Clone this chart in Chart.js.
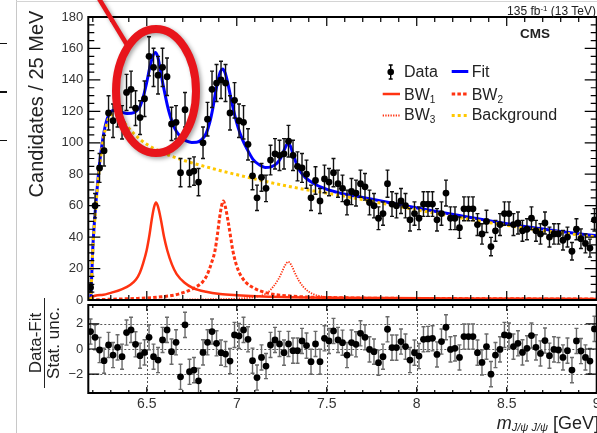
<!DOCTYPE html>
<html><head><meta charset="utf-8">
<script src="https://cdn.jsdelivr.net/npm/chart.js@4.4.1/dist/chart.umd.min.js"></script>
<style>
html,body{margin:0;padding:0;background:#fff;}
body{width:597px;height:433px;position:relative;overflow:hidden;font-family:"Liberation Sans",Arial,Helvetica,sans-serif;color:#222;}
canvas{position:absolute;left:0;}
.t{position:absolute;white-space:nowrap;}
.leg{position:absolute;white-space:nowrap;font-size:16px;line-height:16px;}
.leg sub{font-size:10px;position:relative;top:3px;vertical-align:baseline;line-height:0;}
</style></head><body>
<div style="position:absolute;left:15.5px;top:0;width:1px;height:433px;background:#c8c8c8"></div>
<div style="position:absolute;left:16px;top:1px;width:581px;height:1px;background:#d4d4d4"></div>
<div style="position:absolute;left:0;top:42.5px;width:7px;height:1.5px;background:#111"></div>
<div style="position:absolute;left:0;top:91px;width:7px;height:1.5px;background:#111"></div>
<div style="position:absolute;left:0;top:139.5px;width:7px;height:1.5px;background:#111"></div>

<canvas id="cMain" width="620" height="316" style="top:0"></canvas>
<canvas id="cPull" width="620" height="152" style="top:290px"></canvas>

<div class="t" style="left:-89px;top:94px;width:250px;height:20px;line-height:20px;font-size:20px;text-align:center;transform:rotate(-90deg);">Candidates / 25 MeV</div>
<div class="t" style="left:0px;top:325px;width:90px;height:36px;font-size:17px;line-height:17px;text-align:center;transform:rotate(-90deg);">
  <div style="border-bottom:1.5px solid #222;height:17px;">Data-Fit</div>
  <div style="height:17px;">Stat. unc.</div>
</div>
<div class="t" style="right:-2px;top:414px;font-size:18px;line-height:18px;"><i>m</i><span style="font-size:11px;position:relative;top:2px;font-style:italic;">J/ψ J/ψ</span> [GeV]</div>
<div class="t" style="right:1px;top:4.8px;font-size:12px;line-height:12px;">135 fb<span style="font-size:8px;position:relative;top:-4px;">-1</span> (13 TeV)</div>
<div class="t" style="left:520px;top:26.5px;font-size:13.5px;line-height:14px;font-weight:bold;">CMS</div>

<div class="leg" style="left:404px;top:63.8px;">Data</div>
<div class="leg" style="left:471.7px;top:63.8px;">Fit</div>
<div class="leg" style="left:404px;top:86.5px;">BW<sub>1</sub></div>
<div class="leg" style="left:471.7px;top:86.5px;">BW<sub>2</sub></div>
<div class="leg" style="left:404px;top:107.2px;">BW<sub>3</sub></div>
<div class="leg" style="left:471.7px;top:107.2px;">Background</div>

<script>
// ---------- data ----------
const binLow = 6.175, binWidth = 0.025;
const counts = [
  8, 60, 84, 95, 119, 114, 121, 113, 132, 134,
  122, 116, 128, 155, 148, 143, 148, 142, 112, 113,
  81, 121, 81, 82, 75, 100, 115, 134, 138, 140,
  138, 119, 127, 114, 113, 99, 79, 65, 78, 71,
  89, 93, 92, 93, 101, 92, 85, 84, 80, 65,
  76, 63, 77, 75, 81, 74, 71, 62, 69, 68,
  74, 72, 62, 60, 52, 55, 74, 61, 60, 63,
  60, 51, 55, 52, 61, 61, 61, 51, 55, 68,
  52, 52, 46, 58, 58, 58, 48, 42, 50, 34,
  44, 48, 55, 55, 48, 49, 44, 45, 52, 44,
  42, 49, 40, 42, 42, 38, 40, 31, 45, 39,
  36, 33, 51
];
const pulls = [
  1.39, 0.93, -0.08, -0.93, 0.32, -0.48, 0.13, -0.61, 1.31, 1.52,
  0.37, -0.53, -0.27, 0.93, -0.61, -0.88, 0.72, 1.52, -0.21, 0.53,
  -2.21, 1.92, -1.81, -1.68, -2.53, -0.27, 0.53, 1.39, 0.45, -0.29,
  -0.40, -0.96, 1.12, 1.04, 1.52, 0.77, -0.93, -2.27, -0.67, -1.36,
  0.32, 0.72, 0.40, -0.29, 0.40, -0.13, -0.13, 0.64, 0.27, -1.01,
  0.40, -1.01, 0.85, 0.64, 1.44, 0.72, 0.50, -0.48, 0.51, 0.37,
  1.25, 0.93, -0.03, -0.21, -1.09, -0.61, 1.57, 0.11, 0.11, 0.59,
  0.19, -0.88, -0.29, -0.56, 0.77, 0.80, 0.85, -0.43, 0.59, 1.73,
  -0.03, 0.05, -0.67, 0.99, 0.99, 0.99, -0.29, -1.07, 0.19, -2.00,
  -0.48, -0.03, 1.12, 1.07, 0.19, 0.45, -0.27, 0.05, 1.07, 0.13,
  -0.35, 0.67, -0.53, -0.03, -0.08, -0.67, -0.13, -1.68, 0.64, -0.16,
  -0.67, -0.96, 1.60
];
const pullUnc = 1;
const fitCurve = [[6.1875,0],[6.19,4],[6.2,33],[6.2125,55],[6.225,72],[6.2375,87],[6.25,98],[6.2625,107],[6.275,113.5],[6.2875,117.5],[6.3,119.8],[6.3125,120.6],[6.33,120.5],[6.36,119.5],[6.39,118.7],[6.415,118.8],[6.44,120],[6.462,123],[6.48,129],[6.499,138],[6.515,147],[6.53,154],[6.547,157.5],[6.56,155],[6.573,148],[6.587,139],[6.601,131],[6.615,123.5],[6.629,117.5],[6.648,111],[6.666,107],[6.695,103],[6.722,101],[6.75,100.2],[6.777,100.3],[6.805,102],[6.83,106],[6.85,113],[6.867,122],[6.882,132],[6.897,140.5],[6.91,145.5],[6.922,147],[6.935,144.5],[6.948,139],[6.962,131.5],[6.975,124.5],[6.99,117],[7.008,109.5],[7.03,102.5],[7.055,96.5],[7.09,89.5],[7.125,86],[7.157,84.3],[7.19,84.7],[7.222,86.8],[7.245,90.5],[7.262,95],[7.276,98.5],[7.287,99.6],[7.298,97.8],[7.314,92.5],[7.332,86.5],[7.351,82],[7.38,78],[7.41,75.3],[7.44,73.3],[7.48,71.3],[7.53,69.3],[7.573,68],[7.7,65.2],[7.9,60.8],[8.1,56.5],[8.258,53.3],[8.45,49.5],[8.6,46.8],[8.8,43.6],[9.0,40.8]];
const bgCurve = [[6.1875,0],[6.19,4],[6.2,32],[6.2125,53],[6.225,70],[6.2375,85],[6.25,96],[6.2625,105],[6.275,111],[6.2875,115.3],[6.3,117.5],[6.3125,118.3],[6.33,117.8],[6.36,115],[6.4,109.3],[6.45,103.5],[6.5,99],[6.583,94],[6.7,89],[6.869,83.5],[7.055,78.2],[7.3,72],[7.573,66.5],[7.9,59.5],[8.258,52],[8.6,45.8],[9.0,40]];
const bw1Curve = [[6.1875,0],[6.19,1.5],[6.25,3.2],[6.314,5],[6.36,6.8],[6.407,9.5],[6.44,13],[6.462,17.5],[6.48,23.5],[6.499,31.5],[6.515,41.5],[6.528,51.5],[6.54,58.8],[6.551,62],[6.562,59.5],[6.579,50.8],[6.596,40],[6.614,31.5],[6.64,22.5],[6.666,16.5],[6.71,11],[6.758,7.6],[6.83,5.2],[6.907,3.8],[7.0,3],[7.146,2.2],[7.573,1.4],[8.2,1],[9.0,0.7]];
const bw2Curve = [[6.1875,0],[6.3,0.5],[6.45,1],[6.58,2],[6.684,4],[6.768,8],[6.81,11.5],[6.835,16],[6.858,23],[6.879,31.5],[6.893,42],[6.904,52],[6.915,59.5],[6.925,63],[6.936,59.5],[6.952,50],[6.966,40],[6.978,31.5],[6.996,23],[7.018,16.5],[7.05,11.3],[7.092,7.8],[7.166,4.5],[7.3,2.5],[7.6,1.4],[8.2,0.9],[9.0,0.6]];
const bw3Curve = [[6.1875,0],[6.8,0.4],[7.05,1.2],[7.13,2.6],[7.17,4.6],[7.203,8.5],[7.23,13],[7.25,17.5],[7.268,22],[7.286,24.3],[7.304,22],[7.322,17.5],[7.344,12.5],[7.369,8.5],[7.4,5.3],[7.444,3],[7.55,1.5],[7.8,0.7],[9.0,0.2]];
const xTickValues = [6.5, 7, 7.5, 8, 8.5, 9];
const xTickLabels = ['6.5', '7', '7.5', '8', '8.5', '9'];
const mainYTicks = [0, 20, 40, 60, 80, 100, 120, 140, 160, 180];
const pullYTicks = [-2, 0, 2];
const pullYLabels = ['\u22122', '0', '2'];

// ---------- helpers ----------
const centers = counts.map((_, i) => binLow + (i + 0.5) * binWidth);
const toXY = arr => arr.map(p => ({x: p[0], y: p[1]}));
Chart.defaults.font.family = '"Liberation Sans", Arial, Helvetica, sans-serif';
const RED = '#ff3311';

const errorBars = {
  id: 'errorBars',
  beforeDatasetDraw(chart, args) {
    const ds = chart.data.datasets[args.index];
    if (!ds.errors) return;
    const ctx = chart.ctx, a = chart.chartArea, xs = chart.scales.x, ys = chart.scales.y;
    ctx.save();
    ctx.strokeStyle = ds.errorColor || '#000';
    ctx.lineWidth = ds.errorWidth || 1.4;
    ctx.beginPath();
    const c = ds.capHalf || 2;
    ds.data.forEach((p, i) => {
      const e = ds.errors[i];
      const px = xs.getPixelForValue(p.x);
      let yt = ys.getPixelForValue(p.y + e), yb = ys.getPixelForValue(p.y - e);
      const ct = yt >= a.top, cb = yb <= a.bottom;
      yt = Math.max(yt, a.top); yb = Math.min(yb, a.bottom);
      ctx.moveTo(px, yt); ctx.lineTo(px, yb);
      if (ct) { ctx.moveTo(px - c, yt); ctx.lineTo(px + c, yt); }
      if (cb) { ctx.moveTo(px - c, yb); ctx.lineTo(px + c, yb); }
    });
    ctx.stroke();
    ctx.restore();
  }
};

function drawMinorMajorX(ctx, chart, minorLen, majorLen, top, bottom) {
  const a = chart.chartArea, xs = chart.scales.x;
  ctx.beginPath();
  for (let k = 62; k <= 90; k++) {
    const v = k / 10;
    const major = xTickValues.some(t => Math.abs(t - v) < 1e-6);
    const L = major ? majorLen : minorLen;
    const px = xs.getPixelForValue(v);
    if (bottom) { ctx.moveTo(px, a.bottom); ctx.lineTo(px, a.bottom - L); }
    if (top) { ctx.moveTo(px, a.top); ctx.lineTo(px, a.top + L); }
  }
  ctx.stroke();
}

const mainFrame = {
  id: 'mainFrame',
  afterDatasetsDraw(chart) {
    const ctx = chart.ctx, a = chart.chartArea, ys = chart.scales.y;
    ctx.save();
    ctx.strokeStyle = '#000';
    ctx.lineWidth = 1.2;
    drawMinorMajorX(ctx, chart, 5, 9, true, true);
    ctx.beginPath();
    for (let v = 0; v <= 180; v += 5) {
      const major = mainYTicks.includes(v);
      const L = major ? 12 : 6;
      const py = ys.getPixelForValue(v);
      ctx.moveTo(a.left, py); ctx.lineTo(a.left + L, py);
      ctx.moveTo(a.right, py); ctx.lineTo(a.right - L, py);
    }
    ctx.stroke();
    ctx.lineWidth = 2;
    ctx.strokeRect(a.left, a.top, a.right - a.left, a.bottom - a.top);
    // legend keys
    const ds = chart.data.datasets;
    const key = (d, x1, x2, y) => {
      ctx.save();
      ctx.strokeStyle = d.borderColor; ctx.lineWidth = d.borderWidth;
      ctx.setLineDash(d.borderDash || []);
      ctx.beginPath(); ctx.moveTo(x1, y); ctx.lineTo(x2, y); ctx.stroke();
      ctx.restore();
    };
    const find = l => ds.find(d => d.label === l);
    key(find('Fit'), 451.7, 468.3, 71.5);
    key(find('BW1'), 382.7, 400, 94);
    key(find('BW2'), 451.7, 468.3, 94);
    key(find('BW3'), 382.7, 400, 115.5);
    key(find('Background'), 451.7, 468.3, 115.5);
    ctx.strokeStyle = '#000'; ctx.lineWidth = 1.4;
    ctx.beginPath();
    ctx.moveTo(390.7, 65); ctx.lineTo(390.7, 79);
    ctx.moveTo(388.7, 65); ctx.lineTo(392.7, 65);
    ctx.moveTo(388.7, 79); ctx.lineTo(392.7, 79);
    ctx.stroke();
    ctx.fillStyle = '#000';
    ctx.beginPath(); ctx.arc(390.7, 72, 3.3, 0, Math.PI * 2); ctx.fill();
    ctx.restore();
  },
  afterDraw(chart) {
    const ctx = chart.ctx;
    ctx.save();
    ctx.shadowColor = 'rgba(0,0,0,0.35)';
    ctx.shadowBlur = 4; ctx.shadowOffsetX = 2; ctx.shadowOffsetY = 2;
    ctx.strokeStyle = '#e8151b';
    ctx.lineWidth = 4.5;
    ctx.beginPath(); ctx.moveTo(98, -3); ctx.lineTo(126.5, 44); ctx.stroke();
    ctx.lineWidth = 8;
    ctx.beginPath(); ctx.ellipse(156, 91, 40, 62, 0, 0, Math.PI * 2); ctx.stroke();
    ctx.restore();
  }
};

const pullFrame = {
  id: 'pullFrame',
  beforeDatasetsDraw(chart) {
    const ctx = chart.ctx, a = chart.chartArea, xs = chart.scales.x, ys = chart.scales.y;
    ctx.save();
    ctx.strokeStyle = '#555'; ctx.lineWidth = 1; ctx.setLineDash([2, 2]);
    ctx.beginPath();
    xTickValues.forEach(v => { if (v < 9) { const px = Math.round(xs.getPixelForValue(v)) + 0.5; ctx.moveTo(px, a.top); ctx.lineTo(px, a.bottom); } });
    pullYTicks.forEach(v => { const py = Math.round(ys.getPixelForValue(v)) + 0.5; ctx.moveTo(a.left, py); ctx.lineTo(a.right, py); });
    ctx.stroke();
    ctx.restore();
  },
  afterDatasetsDraw(chart) {
    const ctx = chart.ctx, a = chart.chartArea, ys = chart.scales.y;
    ctx.save();
    ctx.strokeStyle = '#000'; ctx.lineWidth = 1.2;
    drawMinorMajorX(ctx, chart, 3, 6, true, true);
    ctx.beginPath();
    pullYTicks.forEach(v => { const py = ys.getPixelForValue(v);
      ctx.moveTo(a.left, py); ctx.lineTo(a.left + 11, py);
      ctx.moveTo(a.right, py); ctx.lineTo(a.right - 11, py); });
    ctx.stroke();
    ctx.lineWidth = 2;
    ctx.strokeRect(a.left, a.top, a.right - a.left, a.bottom - a.top);
    ctx.restore();
  }
};

const curveDs = (label, arr, color, width, dash, order) => ({
  label, type: 'line', data: toXY(arr), borderColor: color, borderWidth: width,
  borderDash: dash, pointRadius: 0, cubicInterpolationMode: 'monotone', fill: false, order
});

new Chart(document.getElementById('cMain'), {
  type: 'line',
  data: { datasets: [
    { label: 'Data', type: 'scatter', data: centers.map((x, i) => ({x, y: counts[i]})),
      errors: counts.map(v => Math.sqrt(v)), errorColor: '#111', errorWidth: 1.4, capHalf: 2,
      pointRadius: 3.4, pointBackgroundColor: '#000', pointBorderWidth: 0, showLine: false, order: 0 },
    curveDs('Background', bgCurve, '#ffc800', 3, [3, 3], 1),
    curveDs('BW3', bw3Curve, RED, 1.8, [1.3, 1.3], 2),
    curveDs('BW2', bw2Curve, RED, 3, [3.5, 2.2], 2),
    curveDs('BW1', bw1Curve, RED, 2.5, [], 2),
    curveDs('Fit', fitCurve, '#0000ff', 3, [], 3)
  ]},
  options: {
    responsive: false, animation: false, devicePixelRatio: 1, events: [],
    layout: { padding: { left: 0, right: 23.3, top: 17, bottom: 16 } },
    plugins: { legend: { display: false }, tooltip: { enabled: false } },
    scales: {
      x: { type: 'linear', min: 6.175, max: 9.0, display: false },
      y: { type: 'linear', min: 0, max: 180,
        afterBuildTicks: s => { s.ticks = mainYTicks.map(v => ({value: v})); },
        ticks: { font: { size: 13 }, color: '#333', padding: 5, autoSkip: false },
        grid: { display: false, drawTicks: false }, border: { display: false },
        afterFit: s => { s.width = 88.3; } }
    }
  },
  plugins: [errorBars, mainFrame]
});

new Chart(document.getElementById('cPull'), {
  type: 'scatter',
  data: { datasets: [
    { label: 'Pull', data: centers.map((x, i) => ({x, y: pulls[i]})),
      errors: pulls.map(() => pullUnc), errorColor: '#6a6a6a', errorWidth: 1.4, capHalf: 2,
      pointRadius: 3.4, pointBackgroundColor: '#000', pointBorderWidth: 0, order: 0 }
  ]},
  options: {
    responsive: false, animation: false, devicePixelRatio: 1, events: [],
    layout: { padding: { left: 0, right: 23.3, top: 15, bottom: 0 } },
    plugins: { legend: { display: false }, tooltip: { enabled: false } },
    scales: {
      x: { type: 'linear', min: 6.175, max: 9.0,
        afterBuildTicks: s => { s.ticks = xTickValues.map(v => ({value: v})); },
        ticks: { callback: (v, i) => xTickLabels[i], font: { size: 14 }, color: '#333', padding: 3, autoSkip: false, maxRotation: 0 },
        grid: { display: false, drawTicks: false }, border: { display: false },
        afterFit: s => { s.height = 49; } },
      y: { type: 'linear', min: -3.5, max: 3.5,
        afterBuildTicks: s => { s.ticks = pullYTicks.map(v => ({value: v})); },
        ticks: { callback: (v, i) => pullYLabels[i], font: { size: 13 }, color: '#333', padding: 5, autoSkip: false },
        grid: { display: false, drawTicks: false }, border: { display: false },
        afterFit: s => { s.width = 88.3; } }
    }
  },
  plugins: [errorBars, pullFrame]
});
</script>
</body></html>
